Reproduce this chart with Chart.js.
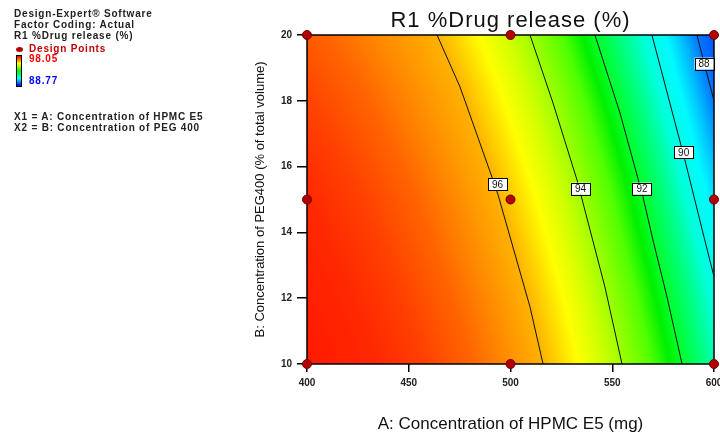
<!DOCTYPE html>
<html>
<head>
<meta charset="utf-8">
<script src="https://cdn.jsdelivr.net/npm/chart.js@4.4.1/dist/chart.umd.min.js"></script>
<style>
  html, body { margin: 0; padding: 0; background: #fff; overflow: hidden; }
  #wrap { position: relative; width: 740px; height: 436px; }
  #grafico { position: absolute; left: 0; top: 0; }
  .leg { position: absolute; left: 14px; font: bold 10px "Liberation Sans", Arial, sans-serif;
         letter-spacing: 0.8px; color: #222; white-space: nowrap; line-height: 12px; }
  #ponto { position: absolute; left: 16px; top: 47px; width: 7px; height: 5px; border-radius: 50%; background: #b00000; }
  #barra { position: absolute; left: 16px; top: 55px; width: 4px; height: 30px; border: 1px solid #000;
           background: linear-gradient(#ff0000, #ffff00, #00ff00, #00ffff, #0000ff); }
</style>
</head>
<body>
<div id="wrap">
  <canvas id="grafico" width="740" height="436"></canvas>
  <div class="leg" style="top:8px">Design-Expert® Software</div>
  <div class="leg" style="top:19px">Factor Coding: Actual</div>
  <div class="leg" style="top:30px">R1 %Drug release (%)</div>
  <div id="ponto"></div>
  <div class="leg" style="top:43px; left:29px; color:#c00000">Design Points</div>
  <div id="barra"></div>
  <div class="leg" id="legMax" style="top:53px; left:29px; color:#ff0000"></div>
  <div class="leg" id="legMin" style="top:75px; left:29px; color:#0000ff"></div>
  <div class="leg" style="top:111px">X1 = A: Concentration of HPMC E5</div>
  <div class="leg" style="top:122px">X2 = B: Concentration of PEG 400</div>
</div>
<script>
// Eixos
const xTicks = [400, 450, 500, 550, 600];
const yTicks = [10, 12, 14, 16, 18, 20];

// Pontos do planejamento (Design Points)
const designX = [400, 500, 600, 400, 500, 600, 400, 500, 600];
const designY = [10, 10, 10, 15, 15, 15, 20, 20, 20];

// Faixa da resposta
const responseMax = 98.05;
const responseMin = 88.77;

// Curvas de nível
const contourLevels = [96, 94, 92, 90, 88];
const c96x = [463.9, 475.2, 490.9, 493.9, 509.6, 516.0];
const c96y = [20, 18.42, 15.68, 15.14, 11.73, 10];
const c94x = [509.6, 520.9, 532.7, 546.4, 554.8];
const c94y = [20, 17.93, 15.59, 12.34, 10];
const c92x = [541.5, 553.8, 565.1, 570.0, 576.9, 584.3];
const c92y = [20, 17.63, 15.08, 13.77, 12.04, 10];
const c90x = [569.5, 585.7, 594.6, 600];
const c90y = [20, 16.20, 13.98, 12.65];
const c88x = [591.6, 600];
const c88y = [20, 18.0];

// Posição dos rótulos das curvas
const labelX = [493.6, 534.4, 564.6, 585.1, 595.1];
const labelY = [15.47, 15.33, 15.33, 16.44, 19.13];

// Valor estimado da resposta nas bordas esquerda e direita
const leftEdgeY = [10, 15, 20];
const leftEdgeValues = [98.0, 97.4, 96.7];
const rightEdgeY = [10, 12.65, 18.0, 20];
const rightEdgeValues = [90.7, 90, 88, 87.4];

document.addEventListener('DOMContentLoaded', function() {

    document.getElementById('legMax').textContent = responseMax.toFixed(2);
    document.getElementById('legMin').textContent = responseMin.toFixed(2);

    // Escala de cores (valor -> rgb)
    const paleta = [
        [98.2, [255, 20, 0]],
        [97.4, [255, 40, 0]],
        [97.0, [255, 64, 0]],
        [96.6, [255, 100, 0]],
        [96.3, [255, 140, 0]],
        [96.0, [255, 178, 0]],
        [95.5, [255, 220, 0]],
        [95.1, [255, 255, 0]],
        [94.5, [210, 255, 0]],
        [94.0, [160, 255, 0]],
        [93.0, [80, 255, 0]],
        [92.4, [0, 240, 0]],
        [92.0, [0, 255, 40]],
        [91.0, [0, 255, 140]],
        [90.3, [0, 255, 220]],
        [89.4, [0, 250, 255]],
        [88.8, [0, 200, 255]],
        [88.0, [0, 120, 255]],
        [87.0, [0, 60, 255]]
    ];

    function corDe(v) {
        if (v >= paleta[0][0]) return paleta[0][1];
        for (let i = 1; i < paleta.length; i++) {
            const a = paleta[i - 1], b = paleta[i];
            if (v >= b[0]) {
                const t = (a[0] - v) / (a[0] - b[0]);
                return a[1].map((c, k) => c + (b[1][k] - c) * t);
            }
        }
        return paleta[paleta.length - 1][1];
    }
    function rgb(c) {
        return 'rgb(' + Math.round(c[0]) + ',' + Math.round(c[1]) + ',' + Math.round(c[2]) + ')';
    }

    // interpola ao longo de uma lista (ys decrescente ou crescente)
    function interp(xs, ys, y) {
        for (let i = 1; i < ys.length; i++) {
            const y0 = ys[i - 1], y1 = ys[i];
            if ((y <= y0 && y >= y1) || (y >= y0 && y <= y1)) {
                const t = (y - y0) / (y1 - y0);
                return xs[i - 1] + (xs[i] - xs[i - 1]) * t;
            }
        }
        return null;
    }

    const contours = [[c96x, c96y], [c94x, c94y], [c92x, c92y], [c90x, c90y], [c88x, c88y]];

    // Fundo colorido da superfície de resposta
    const fundoPlugin = {
        id: 'fundo',
        beforeDatasetsDraw(chart) {
            const {ctx, chartArea: a, scales: {x, y}} = chart;
            ctx.save();
            for (let py = Math.floor(a.top); py < a.bottom; py++) {
                const yv = y.getValueForPixel(py + 0.5);
                const nos = [[x.min, interp(leftEdgeValues, leftEdgeY, yv)]];
                contours.forEach(function(c, i) {
                    const xv = interp(c[0], c[1], yv);
                    if (xv !== null && xv < x.max) nos.push([xv, contourLevels[i]]);
                });
                nos.push([x.max, interp(rightEdgeValues, rightEdgeY, yv)]);

                const px0 = x.getPixelForValue(x.min), px1 = x.getPixelForValue(x.max);
                const grad = ctx.createLinearGradient(px0, 0, px1, 0);
                const pos = p => Math.min(1, Math.max(0, (x.getPixelForValue(p) - px0) / (px1 - px0)));
                for (let i = 0; i < nos.length; i++) {
                    const [xa, va] = nos[i];
                    grad.addColorStop(pos(xa), rgb(corDe(va)));
                    if (i < nos.length - 1) {
                        const [xb, vb] = nos[i + 1];
                        paleta.forEach(function(s) {
                            if (s[0] < va && s[0] > vb) {
                                const xs = xa + (va - s[0]) / (va - vb) * (xb - xa);
                                grad.addColorStop(pos(xs), rgb(s[1]));
                            }
                        });
                    }
                }
                ctx.fillStyle = grad;
                ctx.fillRect(a.left, py, a.right - a.left, 1);
            }
            // moldura
            ctx.strokeStyle = '#000';
            ctx.lineWidth = 1.5;
            ctx.strokeRect(a.left, a.top, a.right - a.left, a.bottom - a.top);
            ctx.restore();
        },
        afterDatasetsDraw(chart) {
            const {ctx, scales: {x, y}} = chart;
            ctx.save();
            ctx.font = '10px "Liberation Sans", Arial, sans-serif';
            ctx.textAlign = 'center';
            ctx.textBaseline = 'middle';
            contourLevels.forEach(function(lv, i) {
                const px = x.getPixelForValue(labelX[i]);
                const py = y.getPixelForValue(labelY[i]);
                const w = 19, h = 12;
                ctx.fillStyle = '#fff';
                ctx.fillRect(px - w / 2, py - h / 2, w, h);
                ctx.strokeStyle = '#000';
                ctx.lineWidth = 1;
                ctx.strokeRect(Math.round(px - w / 2) + 0.5, Math.round(py - h / 2) + 0.5, w, h);
                ctx.fillStyle = '#111';
                ctx.fillText(String(lv), px, py + 1);
            });
            ctx.restore();
        },
        afterDraw(chart) {
            const {ctx, chartArea: a} = chart;
            ctx.save();
            ctx.font = '22px "Liberation Sans", Arial, sans-serif';
            ctx.letterSpacing = '1px';
            ctx.fillStyle = '#111';
            ctx.textAlign = 'center';
            ctx.textBaseline = 'alphabetic';
            ctx.fillText('R1 %Drug release (%)', (a.left + a.right) / 2, 27);
            ctx.restore();
        }
    };

    const datasets = [{
        label: 'Design Points',
        data: designX.map((v, i) => ({x: v, y: designY[i]})),
        pointRadius: 4.5,
        pointBackgroundColor: '#b30000',
        pointBorderColor: '#6a0000',
        pointBorderWidth: 1,
        showLine: false,
        clip: false
    }];
    contours.forEach(function(c, i) {
        datasets.push({
            label: String(contourLevels[i]),
            data: c[0].map((v, k) => ({x: v, y: c[1][k]})),
            showLine: true,
            borderColor: '#111',
            borderWidth: 1,
            pointRadius: 0,
            fill: false
        });
    });

    const tickFont = {family: '"Liberation Sans", Arial, sans-serif', size: 10, weight: 'bold'};

    new Chart(document.getElementById('grafico'), {
        type: 'scatter',
        data: {datasets: datasets},
        options: {
            responsive: false,
            devicePixelRatio: 1,
            animation: false,
            events: [],
            layout: {padding: {left: 250, top: 35, right: 26, bottom: 0}},
            plugins: {legend: {display: false}, tooltip: {enabled: false}},
            scales: {
                x: {
                    min: 400, max: 600,
                    afterBuildTicks: s => { s.ticks = xTicks.map(v => ({value: v})); },
                    afterFit: s => { s.height = 72; },
                    border: {display: false},
                    grid: {drawOnChartArea: false, tickLength: 8, color: '#000', lineWidth: 1.5},
                    ticks: {color: '#222', font: tickFont, padding: 5, maxRotation: 0},
                    title: {display: true, text: 'A: Concentration of HPMC E5 (mg)', color: '#111',
                            font: {family: '"Liberation Sans", Arial, sans-serif', size: 17},
                            padding: {top: 0, bottom: 1}}
                },
                y: {
                    min: 10, max: 20,
                    afterBuildTicks: s => { s.ticks = yTicks.map(v => ({value: v})); },
                    afterFit: s => { s.width = 57; },
                    border: {display: false},
                    grid: {drawOnChartArea: false, tickLength: 10, color: '#000', lineWidth: 1.5},
                    ticks: {color: '#222', font: tickFont, padding: 5},
                    title: {display: true, text: 'B: Concentration of PEG400 (% of total volume)', color: '#111',
                            font: {family: '"Liberation Sans", Arial, sans-serif', size: 13},
                            padding: {top: 3, bottom: 0}}
                }
            }
        },
        plugins: [fundoPlugin]
    });
});
</script>
</body>
</html>
